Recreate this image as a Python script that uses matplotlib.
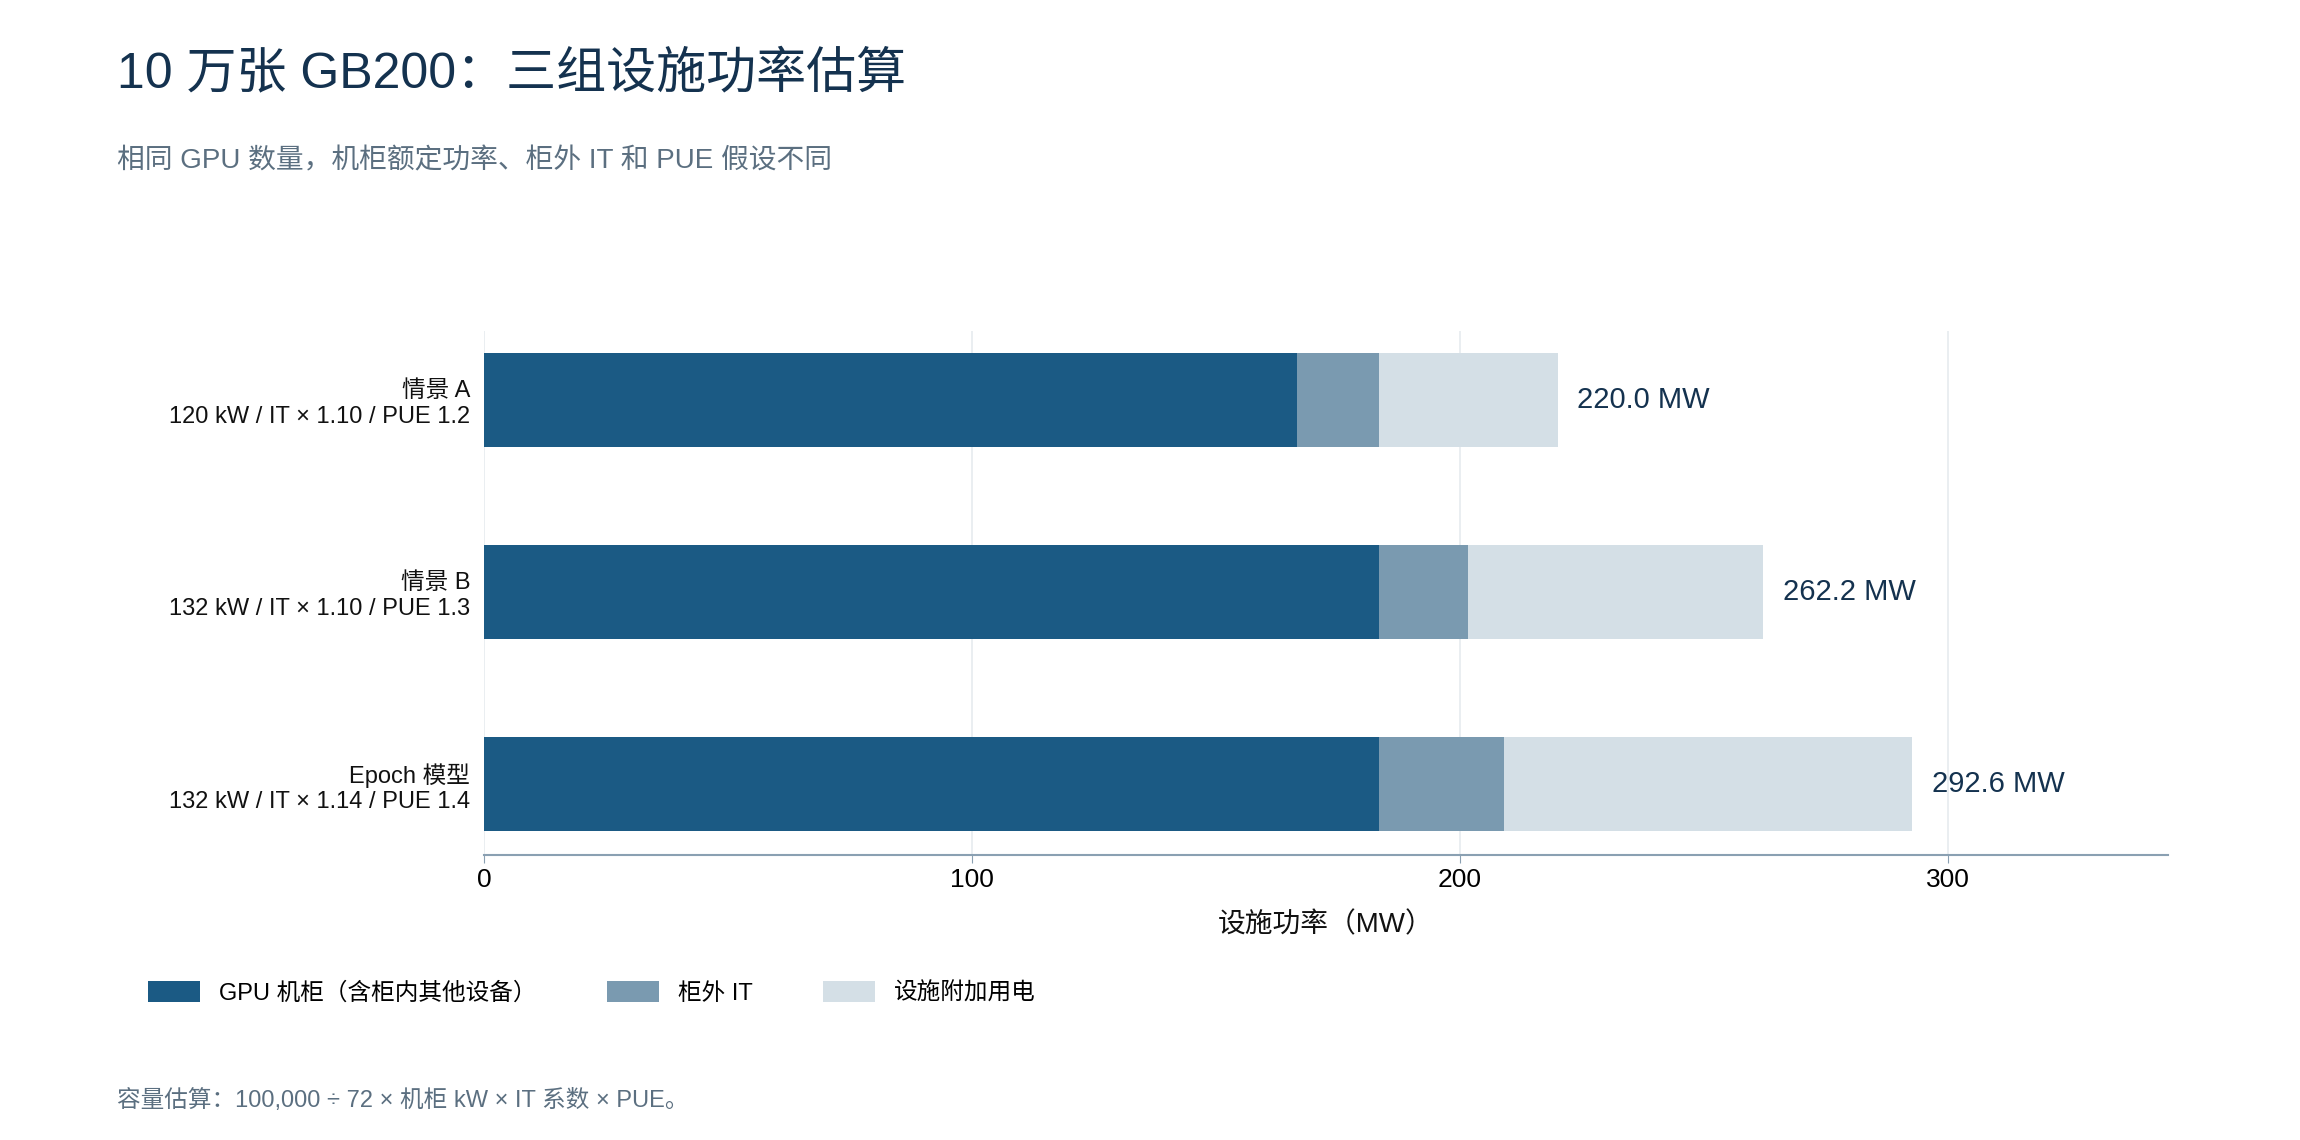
import matplotlib
matplotlib.use("Agg")
import matplotlib.pyplot as plt

plt.rcParams['font.family'] = ['Liberation Sans', 'Noto Sans CJK SC', 'DejaVu Sans']

scenarios = ["情景 A\n120 kW / IT × 1.10 / PUE 1.2",
             "情景 B\n132 kW / IT × 1.10 / PUE 1.3",
             "Epoch 模型\n132 kW / IT × 1.14 / PUE 1.4"]
gpu_rack = [166.67, 183.33, 183.33]
outside_it = [16.67, 18.33, 25.67]
facility_extra = [36.67, 60.50, 83.60]
totals = [220.0, 262.2, 292.6]
legend_labels = ["GPU 机柜（含柜内其他设备）", "柜外 IT", "设施附加用电"]
colors = ["#1b5a84", "#7a9ab0", "#d4dfe6"]

fig = plt.figure(figsize=(23, 11.4), dpi=100)
ax = fig.add_axes([0.2104, 0.25, 0.7321, 0.46])
y = [2, 1, 0]
left = [0, 0, 0]
for vals, c, lab in zip([gpu_rack, outside_it, facility_extra], colors, legend_labels):
    ax.barh(y, vals, left=left, color=c, height=0.49, label=lab)
    left = [l + v for l, v in zip(left, vals)]
for yi, t in zip(y, totals):
    ax.text(t + 4, yi, f"{t:.1f} MW", va='center', ha='left', fontsize=21, color='#14324f')
ax.set_yticks(y)
ax.set_yticklabels(scenarios, fontsize=17, color='#111111')
ax.set_xlim(0, 345)
ax.set_ylim(-0.37, 2.36)
ax.set_xticks([0, 100, 200, 300])
ax.tick_params(axis='x', labelsize=19, length=6, color='#8aa0b2')
ax.tick_params(axis='y', length=0, pad=10)
ax.grid(axis='x', color='#e6ebef', linewidth=1.2)
ax.set_axisbelow(True)
for s in ['top', 'right', 'left']:
    ax.spines[s].set_visible(False)
ax.spines['bottom'].set_color('#8aa0b2')
ax.spines['bottom'].set_linewidth(1.5)
ax.set_xlabel("设施功率（MW）", fontsize=20, labelpad=14, color='#111111')

fig.text(0.051, 0.935, "10 万张 GB200：三组设施功率估算", fontsize=36, color='#14324f', va='center')
fig.text(0.051, 0.858, "相同 GPU 数量，机柜额定功率、柜外 IT 和 PUE 假设不同", fontsize=20, color='#5b6f80', va='center')
fig.text(0.051, 0.025, "容量估算：100,000 ÷ 72 × 机柜 kW × IT 系数 × PUE。", fontsize=17, color='#5b6f80', va='bottom')
fig.legend(loc='center left', bbox_to_anchor=(0.055, 0.129), ncol=3, frameon=False,
           fontsize=17, handlelength=2.2, handleheight=1.0, columnspacing=3.0)
fig.savefig("out.png", dpi=100)
